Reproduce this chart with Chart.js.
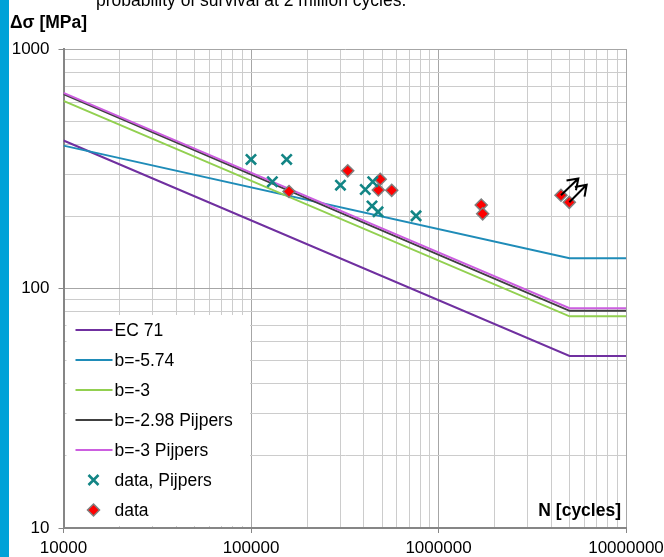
<!DOCTYPE html>
<html>
<head>
<meta charset="utf-8">
<script src="https://cdn.jsdelivr.net/npm/chart.js@4.4.0/dist/chart.umd.min.js"></script>
<style>
  html, body { margin: 0; padding: 0; background: #fff; }
  #wrap { width: 664px; height: 557px; position: relative; }
</style>
</head>
<body>
<div id="wrap"><canvas id="snChart" width="664" height="557"></canvas></div>
<script>
// S-N curves (knee at 5 million cycles, flat afterwards)
const seriesNames = ['EC 71', 'b=-5.74', 'b=-3', 'b=-2.98 Pijpers', 'b=-3 Pijpers'];
const seriesColors = ['#7030a0', '#1f8cb8', '#92d050', '#404040', '#cc5ee0'];
const lineCycles = [10000, 5000000, 10000000];
const ec71 = [415, 52.3, 52.3];
const b574 = [395, 133.8, 133.8];
const b3 = [607, 76.5, 76.5];
const b298Pijpers = [648, 80.7, 80.7];
const b3Pijpers = [656, 82.7, 82.7];

// test results
const pijpersN = [100000, 155000, 130000, 300000, 407000, 446000, 442000, 476000, 759000];
const pijpersS = [346, 346, 279, 270, 259, 279, 221, 209, 201];
const dataN = [159500, 328000, 489000, 477500, 563000, 1690000, 1720000, 4500000, 4985000];
const dataS = [254, 310, 286, 258, 257, 223, 205, 245, 229];

// run-outs (arrows)
const arrowStartN = [4500000, 4985000];
const arrowStartS = [245, 229];
const arrowEndN = [5570000, 6170000];
const arrowEndS = [288, 271];

// axis ticks
const xMajor = [10000, 100000, 1000000, 10000000];
const xTickLabels = ['10000', '100000', '1000000', '10000000'];
const yMajor = [10, 100, 1000];
const yTickLabels = ['10', '100', '1000'];

const FONT = '"Liberation Sans", Arial, sans-serif';

function isMajor(v) {
    const l = Math.log10(v);
    return Math.abs(l - Math.round(l)) < 1e-9;
}

function logTicks(min, max) {
    const out = [];
    for (let e = Math.round(Math.log10(min)); Math.pow(10, e) < max; e++) {
        for (let k = 1; k < 10; k++) out.push({ value: k * Math.pow(10, e) });
    }
    out.push({ value: max });
    return out;
}

function labelFor(majors, labels, value) {
    const i = majors.findIndex(m => Math.abs(m - value) / m < 1e-9);
    return i >= 0 ? labels[i] : '';
}

function toPoints(xs, ys) {
    return xs.map((x, i) => ({ x: x, y: ys[i] }));
}

const lineValues = [ec71, b574, b3, b298Pijpers, b3Pijpers];
const datasets = lineValues.map((vals, i) => ({
    label: seriesNames[i],
    data: toPoints(lineCycles, vals),
    showLine: true,
    borderColor: seriesColors[i],
    backgroundColor: seriesColors[i],
    borderWidth: 2,
    pointRadius: 0,
    tension: 0,
    order: 5 - i
}));
datasets.push({
    label: 'data, Pijpers',
    data: toPoints(pijpersN, pijpersS),
    showLine: false,
    pointStyle: 'crossRot',
    pointRadius: 7.2,
    borderWidth: 2.6,
    borderColor: '#138585',
    backgroundColor: '#138585',
    order: 0
});
datasets.push({
    label: 'data',
    data: toPoints(dataN, dataS),
    showLine: false,
    pointStyle: 'rectRot',
    pointRadius: 6,
    borderWidth: 1.5,
    borderColor: '#7f7f7f',
    backgroundColor: '#ff0000',
    order: 0
});

// white legend box inside the plot, bottom-left
const insideLegend = {
    id: 'insideLegend',
    beforeDatasetsDraw(chart) {
        const ctx = chart.ctx;
        const area = chart.chartArea;
        const left = area.left + 3;
        const right = chart.scales.x.getPixelForValue(100000) - 1;
        const top = area.bottom - 213;
        ctx.save();
        ctx.fillStyle = '#ffffff';
        ctx.fillRect(left, top, right - left, area.bottom - 2 - top);
        ctx.font = '17.5px ' + FONT;
        ctx.textBaseline = 'middle';
        ctx.fillStyle = '#000';
        const all = chart.data.datasets;
        all.forEach((ds, i) => {
            const y = top + 15 + 30 * i;
            const mx = left + 27;
            if (ds.showLine) {
                ctx.strokeStyle = ds.borderColor;
                ctx.lineWidth = 2;
                ctx.beginPath();
                ctx.moveTo(left + 9, y);
                ctx.lineTo(left + 46, y);
                ctx.stroke();
            } else if (ds.pointStyle === 'crossRot') {
                const r = 5;
                ctx.strokeStyle = ds.borderColor;
                ctx.lineWidth = 2.6;
                ctx.beginPath();
                ctx.moveTo(mx - r, y - r); ctx.lineTo(mx + r, y + r);
                ctx.moveTo(mx + r, y - r); ctx.lineTo(mx - r, y + r);
                ctx.stroke();
            } else {
                const r = 6;
                ctx.fillStyle = ds.backgroundColor;
                ctx.strokeStyle = ds.borderColor;
                ctx.lineWidth = 1.5;
                ctx.beginPath();
                ctx.moveTo(mx, y - r); ctx.lineTo(mx + r, y);
                ctx.lineTo(mx, y + r); ctx.lineTo(mx - r, y);
                ctx.closePath();
                ctx.fill();
                ctx.stroke();
            }
            ctx.fillStyle = '#000';
            ctx.fillText(ds.label, left + 48, y + 1);
        });
        ctx.restore();
    }
};

// run-out arrows from the last two test results
const runOuts = {
    id: 'runOuts',
    afterDatasetsDraw(chart) {
        const ctx = chart.ctx;
        const xs = chart.scales.x, ys = chart.scales.y;
        ctx.save();
        ctx.strokeStyle = '#000';
        ctx.lineWidth = 2;
        arrowStartN.forEach((n, i) => {
            const x0 = xs.getPixelForValue(n), y0 = ys.getPixelForValue(arrowStartS[i]);
            const x1 = xs.getPixelForValue(arrowEndN[i]), y1 = ys.getPixelForValue(arrowEndS[i]);
            const ang = Math.atan2(y1 - y0, x1 - x0);
            const head = 12, spread = 0.6;
            ctx.beginPath();
            ctx.moveTo(x0, y0);
            ctx.lineTo(x1, y1);
            ctx.moveTo(x1 - head * Math.cos(ang - spread), y1 - head * Math.sin(ang - spread));
            ctx.lineTo(x1, y1);
            ctx.lineTo(x1 - head * Math.cos(ang + spread), y1 - head * Math.sin(ang + spread));
            ctx.stroke();
        });
        ctx.restore();
    }
};

// side bar, cut-off caption and axis titles
const decorations = {
    id: 'decorations',
    beforeDraw(chart) {
        const ctx = chart.ctx;
        ctx.save();
        ctx.fillStyle = '#00a2d8';
        ctx.fillRect(0, 0, 9, chart.height);
        ctx.restore();
    },
    afterDraw(chart) {
        const ctx = chart.ctx;
        const area = chart.chartArea;
        ctx.save();
        ctx.fillStyle = '#000';
        ctx.textBaseline = 'alphabetic';
        ctx.font = '17.5px ' + FONT;
        ctx.fillText('probability of survival at 2 million cycles.', 96, 6);
        ctx.font = 'bold 17.5px ' + FONT;
        ctx.fillText('\u0394\u03c3 [MPa]', 10, 28);
        ctx.textAlign = 'right';
        ctx.fillText('N [cycles]', area.right - 5, 516);
        ctx.restore();
    }
};

const gridColor = (c) => (c.tick && isMajor(c.tick.value)) ? '#a6a6a6' : '#cccccc';
const tickColor = (c) => (c.tick && isMajor(c.tick.value)) ? '#868686' : 'rgba(0,0,0,0)';

new Chart(document.getElementById('snChart'), {
    type: 'scatter',
    data: { datasets: datasets },
    options: {
        responsive: false,
        animation: false,
        layout: { padding: { top: 49, right: 38, left: 0, bottom: 0 } },
        plugins: {
            legend: { display: false },
            tooltip: { enabled: false },
            title: { display: false }
        },
        scales: {
            x: {
                type: 'logarithmic',
                min: 10000,
                max: 10000000,
                afterBuildTicks: (s) => { s.ticks = logTicks(10000, 10000000); },
                afterFit: (s) => { s.height = 29; s.paddingRight = 0; s.paddingLeft = 0; },
                grid: { color: gridColor, lineWidth: 1, tickLength: 5, tickColor: tickColor },
                border: { display: true, color: '#868686', width: 2 },
                ticks: {
                    autoSkip: false,
                    maxRotation: 0,
                    padding: 5,
                    color: '#000',
                    font: { family: FONT, size: 17 },
                    callback: (v) => labelFor(xMajor, xTickLabels, v)
                }
            },
            y: {
                type: 'logarithmic',
                min: 10,
                max: 1000,
                afterBuildTicks: (s) => { s.ticks = logTicks(10, 1000); },
                afterFit: (s) => { s.width = 63.5; },
                grid: { color: gridColor, lineWidth: 1, tickLength: 5, tickColor: tickColor },
                border: { display: true, color: '#868686', width: 2 },
                ticks: {
                    autoSkip: false,
                    padding: 9,
                    color: '#000',
                    font: { family: FONT, size: 17 },
                    callback: (v) => labelFor(yMajor, yTickLabels, v)
                }
            }
        }
    },
    plugins: [insideLegend, runOuts, decorations]
});
</script>
</body>
</html>
